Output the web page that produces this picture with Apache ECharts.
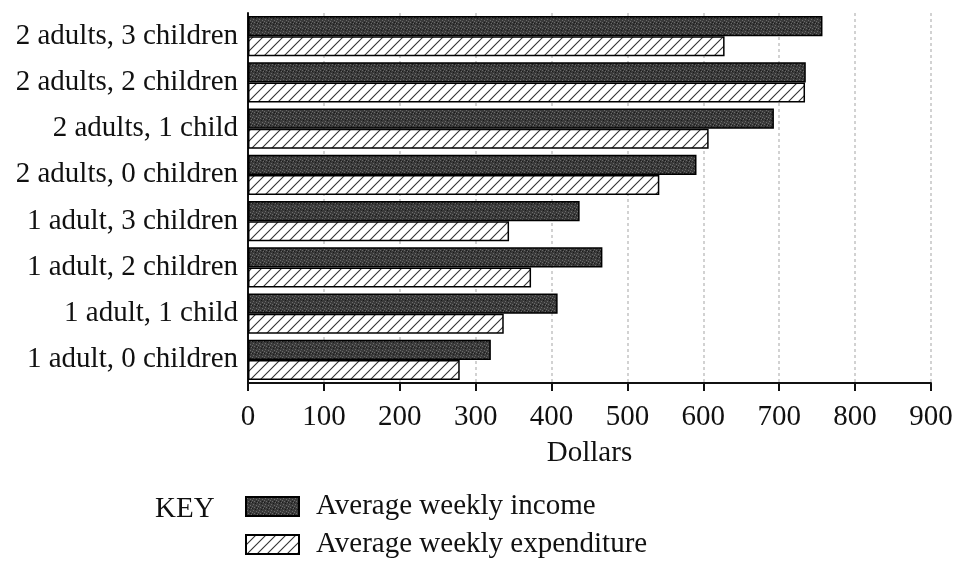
<!DOCTYPE html>
<html>
<head>
<meta charset="utf-8">
<script src="https://cdn.jsdelivr.net/npm/echarts@6/dist/echarts.min.js"></script>
<style>html,body{margin:0;padding:0;background:#fff}#c{width:956px;height:561px}</style>
</head>
<body>
<div id="c"></div>
<script>
const categories = ['2 adults, 3 children','2 adults, 2 children','2 adults, 1 child','2 adults, 0 children','1 adult, 3 children','1 adult, 2 children','1 adult, 1 child','1 adult, 0 children'];
const income = [757, 735, 693, 591, 437, 467, 408, 320];
const expenditure = [628, 734, 607, 542, 344, 373, 337, 279];
const xTicks = [0,100,200,300,400,500,600,700,800,900];

function hatch(){
  const c = document.createElement('canvas'); c.width = 10; c.height = 10;
  const g = c.getContext('2d');
  g.fillStyle = '#fff'; g.fillRect(0,0,10,10);
  g.strokeStyle = '#333'; g.lineWidth = 1.1;
  g.beginPath();
  g.moveTo(-2,12); g.lineTo(12,-2);
  g.moveTo(-7,7); g.lineTo(7,-7);
  g.moveTo(3,17); g.lineTo(17,3);
  g.stroke();
  return c;
}
function stipple(){
  const c = document.createElement('canvas'); c.width = 6; c.height = 6;
  const g = c.getContext('2d');
  g.fillStyle = '#3a3a3a'; g.fillRect(0,0,6,6);
  g.fillStyle = '#6a6a6a';
  [[1,1],[4,2],[2,4],[5,5],[0,3]].forEach(p=>g.fillRect(p[0],p[1],1,1));
  g.fillStyle = '#1a1a1a';
  [[3,0],[0,5],[4,4]].forEach(p=>g.fillRect(p[0],p[1],1,1));
  return c;
}
const font = '"Liberation Serif", "Times New Roman", serif';
const FS = 29;
const incomeStyle = {color: {image: stipple(), repeat: 'repeat'}, borderColor: '#000', borderWidth: 1.5};
const expStyle = {color: {image: hatch(), repeat: 'repeat'}, borderColor: '#000', borderWidth: 1.5};
const legendBase = {
  orient: 'vertical', left: 245, itemWidth: 53, itemHeight: 19, padding: 0, icon: 'rect',
  textStyle: {fontFamily: font, fontSize: FS, color: '#111', padding: [0,0,0,12]}
};
const chart = echarts.init(document.getElementById('c'));
chart.setOption({
  animation: false,
  textStyle: {fontFamily: font},
  grid: {left: 248, right: 25, top: 13, bottom: 178, containLabel: false},
  xAxis: {
    type: 'value', min: 0, max: 900, interval: 100,
    name: 'Dollars', nameLocation: 'middle', nameGap: 56,
    nameTextStyle: {fontFamily: font, fontSize: FS, color: '#111'},
    axisLine: {show: true, lineStyle: {color: '#111', width: 2}},
    axisTick: {show: true, length: 8, lineStyle: {color: '#111', width: 2}},
    axisLabel: {fontFamily: font, fontSize: FS, color: '#111', margin: 20,
      formatter: v => xTicks.includes(v) ? String(v) : ''},
    splitLine: {show: true, lineStyle: {color: '#c4c4c4', type: [3,3], width: 1.5}}
  },
  yAxis: {
    type: 'category', data: categories, inverse: true,
    axisLine: {show: true, lineStyle: {color: '#111', width: 2}},
    axisTick: {show: false},
    axisLabel: {fontFamily: font, fontSize: FS, color: '#111', margin: 10}
  },
  legend: [
    Object.assign({}, legendBase, {top: 492, data: ['Average weekly income']}),
    Object.assign({}, legendBase, {top: 530, data: ['Average weekly expenditure']})
  ],
  graphic: [{type: 'text', left: 155, top: 495, style: {text: 'KEY', font: FS + 'px ' + font, fill: '#111'}}],
  series: [
    {name: 'Average weekly income', type: 'bar', data: income, barGap: '0%', barCategoryGap: '13.5%',
     itemStyle: incomeStyle},
    {name: 'Average weekly expenditure', type: 'bar', data: expenditure, barGap: '0%', barCategoryGap: '13.5%',
     itemStyle: expStyle}
  ]
});
</script>
</body>
</html>
